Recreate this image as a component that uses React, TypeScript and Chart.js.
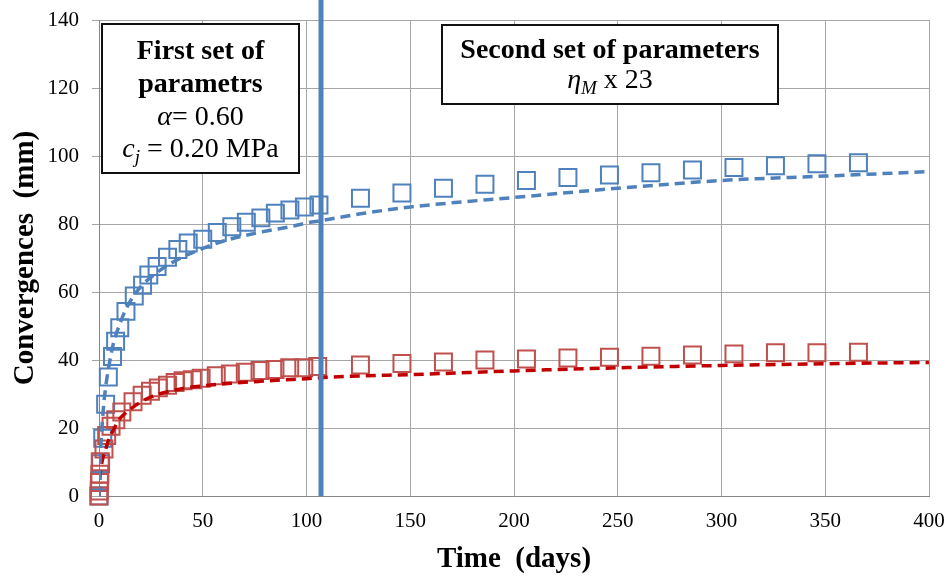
import React, { useEffect, useRef } from "react";
import { Chart, registerables } from "chart.js";

Chart.register(...registerables);

const SERIF = "'Liberation Serif', 'Times New Roman', serif";

// ---- data ----
const xTicks = [0, 50, 100, 150, 200, 250, 300, 350, 400];
const yTicks = [0, 20, 40, 60, 80, 100, 120, 140];

const blueDays = [0, 0.3, 0.8, 1.8, 3.2, 4.5, 6.5, 8, 10, 13, 17, 21, 24, 28, 33, 38, 43, 50, 57, 64, 71, 78, 85, 92, 99, 106, 126, 146, 166, 186, 206, 226, 246, 266, 286, 306, 326, 346, 366];
const blueMeasured = [0, 4.5, 9.5, 17, 27, 35, 41, 45.5, 49.5, 54.3, 58.8, 62, 65, 67.5, 70.2, 72.5, 74.4, 75.5, 77.5, 79.2, 80.5, 81.8, 83.2, 84.1, 85, 85.6, 87.6, 89.1, 90.5, 91.7, 92.8, 93.7, 94.4, 95.1, 95.9, 96.6, 97.1, 97.7, 98.0];

const redDays = [0, 0.1, 0.2, 0.4, 0.6, 2.4, 3.7, 5.8, 8.1, 11, 16.4, 20.8, 24.8, 28.6, 33, 36.7, 40.5, 45, 49.2, 56.5, 63.3, 70.5, 77.6, 84.8, 91.9, 98.7, 105.4, 126, 146, 166, 186, 206, 226, 246, 266, 286, 306, 326, 346, 366];
const redMeasured = [0, 1.5, 4, 6.4, 10.1, 13.8, 17.8, 20.5, 22.4, 24.7, 27.7, 29.6, 30.8, 31.8, 32.6, 33.4, 33.9, 34.2, 34.6, 35.4, 35.9, 36.4, 36.9, 37.2, 37.7, 37.7, 38.1, 38.5, 39.0, 39.4, 40.0, 40.3, 40.6, 40.8, 41.1, 41.5, 41.8, 42.1, 42.1, 42.3];

const modelDays = [0, 0.5, 1, 2, 3, 5, 7, 10, 13, 20, 26, 34, 42, 50, 60, 77, 93, 100, 107, 126, 150, 200, 250, 300, 350, 400];
const blueModel = [0, 10, 16, 25, 31, 39, 45, 50.5, 55, 61.5, 64.8, 68.2, 70.8, 72.8, 75, 77.5, 79.3, 80.3, 81, 83, 85, 87.8, 90.5, 92.8, 94.1, 95.4];
const redModel = [0, 6, 8.5, 11.5, 13.4, 17, 19.5, 22.7, 24.5, 27.6, 29.4, 30.8, 31.8, 32.4, 33, 33.7, 34.3, 34.5, 34.8, 35.3, 35.7, 36.8, 37.7, 38.4, 38.9, 39.3];

const switchDay = [107, 107];
const switchLevel = [0, 146];

const BLUE = "#4F81BD";
const RED = "#C0504D";
const DARK_RED = "#C00000";

const pts = (xs: number[], ys: number[]) => xs.map((x, i) => ({ x, y: ys[i] }));

type Run = { text: string; font: string; dy?: number };

function drawRuns(ctx: CanvasRenderingContext2D, runs: Run[], cx: number, baseline: number) {
  let total = 0;
  const widths: number[] = [];
  for (const r of runs) {
    ctx.font = r.font;
    const w = ctx.measureText(r.text).width;
    widths.push(w);
    total += w;
  }
  let x = cx - total / 2;
  runs.forEach((r, i) => {
    ctx.font = r.font;
    ctx.fillText(r.text, x, baseline + (r.dy || 0));
    x += widths[i];
  });
}

const boxesPlugin = {
  id: "textBoxes",
  afterDraw(chart: any) {
    const ctx: CanvasRenderingContext2D = chart.ctx;
    ctx.save();
    ctx.textAlign = "left";
    ctx.textBaseline = "alphabetic";
    const B = `bold 28px ${SERIF}`;
    const R = `28px ${SERIF}`;
    const I = `italic 28px ${SERIF}`;
    const IS = `italic 19px ${SERIF}`;

    // Box 1
    const b1 = { x: 102, y: 24, w: 197, h: 149 };
    ctx.fillStyle = "#ffffff";
    ctx.fillRect(b1.x, b1.y, b1.w, b1.h);
    ctx.lineWidth = 2;
    ctx.strokeStyle = "#111111";
    ctx.strokeRect(b1.x, b1.y, b1.w, b1.h);
    ctx.fillStyle = "#000000";
    const c1 = b1.x + b1.w / 2;
    drawRuns(ctx, [{ text: "First set of", font: B }], c1, 59);
    drawRuns(ctx, [{ text: "parametrs", font: B }], c1, 92);
    drawRuns(ctx, [{ text: "α", font: I }, { text: "= 0.60", font: R }], c1, 125);
    drawRuns(ctx, [{ text: "c", font: I }, { text: "j", font: IS, dy: 6 }, { text: " = 0.20 MPa", font: R }], c1, 157);

    // Box 2
    const b2 = { x: 442, y: 25, w: 336, h: 79 };
    ctx.fillStyle = "#ffffff";
    ctx.fillRect(b2.x, b2.y, b2.w, b2.h);
    ctx.strokeStyle = "#111111";
    ctx.strokeRect(b2.x, b2.y, b2.w, b2.h);
    ctx.fillStyle = "#000000";
    const c2 = b2.x + b2.w / 2;
    drawRuns(ctx, [{ text: "Second set of parameters", font: B }], c2, 58);
    drawRuns(ctx, [{ text: "η", font: I }, { text: "M", font: IS, dy: 6 }, { text: " x 23", font: R }], c2, 88);
    ctx.restore();
  },
};

export default function App() {
  const ref = useRef<HTMLCanvasElement>(null);
  useEffect(() => {
    if (!ref.current) return;
    const chart = new Chart(ref.current, {
      type: "line",
      data: {
        datasets: [
          {
            label: "switch",
            data: pts(switchDay, switchLevel),
            borderColor: BLUE,
            borderWidth: 5,
            pointRadius: 0,
            clip: false,
          } as any,
          {
            label: "blue model",
            data: pts(modelDays, blueModel),
            borderColor: BLUE,
            borderWidth: 3.5,
            borderDash: [10, 6],
            pointRadius: 0,
            cubicInterpolationMode: "monotone",
          },
          {
            label: "red model",
            data: pts(modelDays, redModel),
            borderColor: DARK_RED,
            borderWidth: 3.5,
            borderDash: [10, 6],
            pointRadius: 0,
            cubicInterpolationMode: "monotone",
          },
          {
            label: "red measured",
            data: pts(redDays, redMeasured),
            showLine: false,
            pointStyle: "rect",
            pointRadius: 12,
            pointBorderWidth: 2,
            pointBorderColor: RED,
            pointBackgroundColor: "rgba(0,0,0,0)",
            clip: false,
          } as any,
          {
            label: "blue measured",
            data: pts(blueDays, blueMeasured),
            showLine: false,
            pointStyle: "rect",
            pointRadius: 12,
            pointBorderWidth: 2,
            pointBorderColor: BLUE,
            pointBackgroundColor: "rgba(0,0,0,0)",
            clip: false,
          } as any,
        ],
      },
      options: {
        responsive: false,
        animation: false,
        events: [],
        layout: { padding: { left: 0, top: 20, right: 23, bottom: 0 } },
        plugins: { legend: { display: false }, tooltip: { enabled: false } },
        scales: {
          x: {
            type: "linear",
            min: 0,
            max: 400,
            afterBuildTicks: (s: any) => {
              s.ticks = xTicks.map((v) => ({ value: v }));
            },
            afterFit: (s: any) => {
              s.height = 84;
              s.paddingLeft = 0;
              s.paddingRight = 0;
            },
            grid: { color: "#a6a6a6", lineWidth: 1, drawTicks: false },
            border: { color: "#868686", width: 1 },
            ticks: {
              color: "#000",
              padding: 13,
              maxRotation: 0,
              font: { family: SERIF, size: 21 },
            },
            title: {
              display: true,
              text: "Time  (days)",
              color: "#000",
              font: { family: SERIF, size: 29, weight: "bold" },
              padding: { top: 0, bottom: 3 },
            },
          },
          y: {
            type: "linear",
            min: 0,
            max: 140,
            afterBuildTicks: (s: any) => {
              s.ticks = yTicks.map((v) => ({ value: v }));
            },
            afterFit: (s: any) => {
              s.width = 99;
              s.paddingTop = 0;
              s.paddingBottom = 0;
            },
            grid: { color: "#a6a6a6", lineWidth: 1, drawTicks: true, tickLength: 7 },
            border: { color: "#868686", width: 1 },
            ticks: {
              color: "#000",
              padding: 13,
              font: { family: SERIF, size: 21 },
            },
            title: {
              display: true,
              text: "Convergences  (mm)",
              color: "#000",
              font: { family: SERIF, size: 29, weight: "bold" },
              padding: { top: 8, bottom: 0 },
            },
          },
        },
      },
      plugins: [boxesPlugin],
    });
    return () => chart.destroy();
  }, []);
  return (
    <div style={{ position: "absolute", left: 0, top: 0, width: 952, height: 580, background: "#fff" }}>
      <canvas ref={ref} width={952} height={580} style={{ display: "block" }} />
    </div>
  );
}
